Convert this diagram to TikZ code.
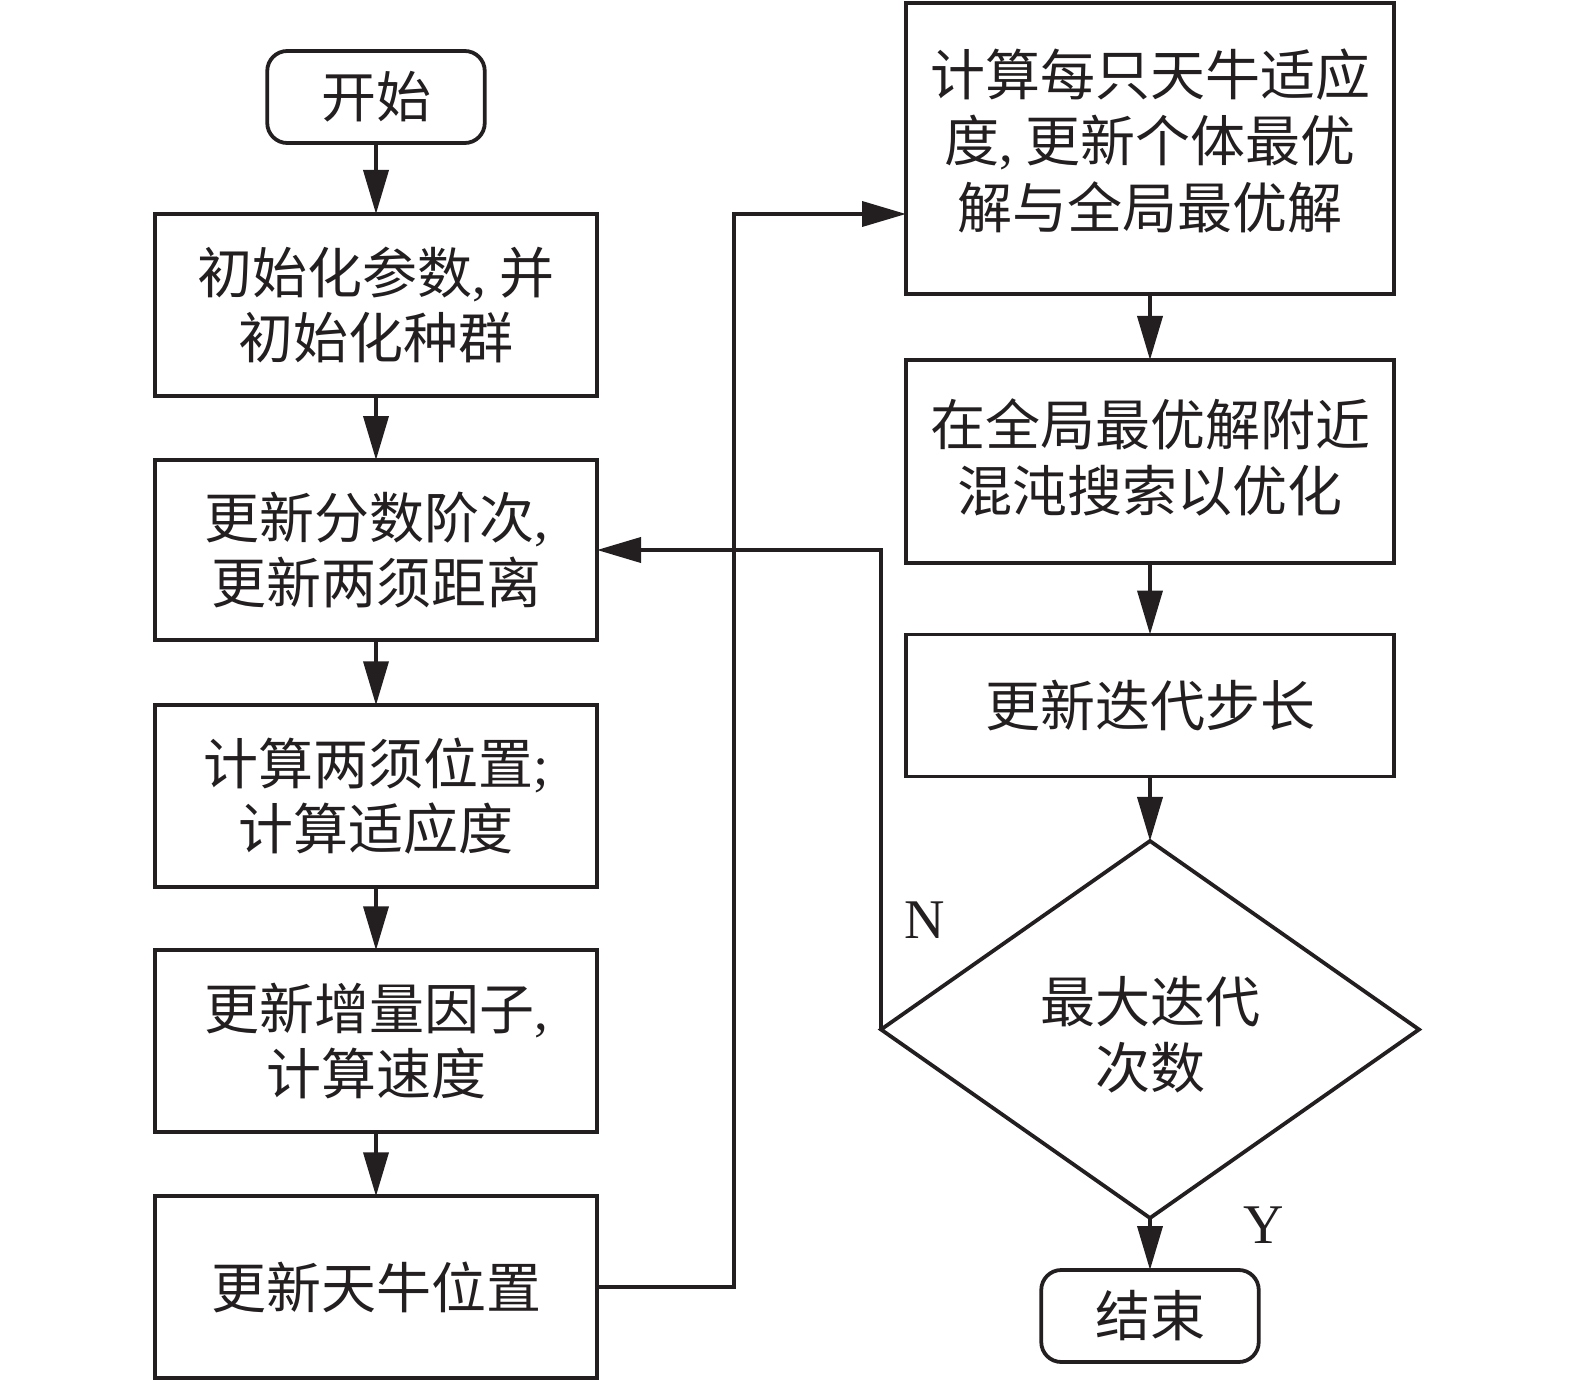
\documentclass[tikz,border=0pt]{standalone}
\usepackage{fontspec}
\setmainfont{Noto Sans CJK SC}
\newfontfamily\lat{Liberation Serif}
\usetikzlibrary{arrows.meta,shapes.geometric}
\definecolor{ink}{HTML}{231F20}
\newcommand\txtup[2]{\raisebox{0pt}[\height][\dimexpr\depth+#1\relax]{\begin{tabular}{@{}c@{}}#2\end{tabular}}}
\newcommand\txtdown[2]{\raisebox{0pt}[\dimexpr\height+#1\relax][\depth]{\begin{tabular}{@{}c@{}}#2\end{tabular}}}
\begin{document}
\begin{tikzpicture}[x=1pt,y=-1pt,
  every node/.style={inner sep=0pt,outer sep=0pt,text=ink,font=\fontsize{55}{65.5}\selectfont,align=center},
  box/.style={draw=ink,line width=3.8pt,rectangle},
  term/.style={draw=ink,line width=3.8pt,rectangle,rounded corners=20pt},
  arr/.style={draw=ink,line width=3.8pt,-{Triangle[length=44pt,width=25pt]}},
  lbl/.style={font=\lat\fontsize{56}{60}\selectfont}]
\useasboundingbox (0,0) rectangle (1575,1380);
% left column
\node[term,minimum width=217.5pt,minimum height=92pt] (start) at (376,97) {开始};
\node[box,minimum width=442pt,minimum height=182pt] (b1) at (376,305) {初始化参数{\lat,} 并\\初始化种群};
\node[box,minimum width=442pt,minimum height=180pt] (b2) at (376,550) {更新分数阶次{\lat,}\\更新两须距离};
\node[box,minimum width=442pt,minimum height=181.5pt] (b3) at (376,796) {计算两须位置{\lat;}\\计算适应度};
\node[box,minimum width=442pt,minimum height=181.5pt] (b4) at (376,1041) {更新增量因子{\lat,}\\计算速度};
\node[box,minimum width=442pt,minimum height=181.5pt] (b5) at (376,1287) {更新天牛位置};
% right column
\node[box,minimum width=488pt,minimum height=291pt] (r1) at (1150,148.5) {\txtup{0pt}{计算每只天牛适应\\度{\lat,} 更新个体最优\\解与全局最优解}};
\node[box,minimum width=488pt,minimum height=203pt] (r2) at (1150,461.5) {\txtdown{6pt}{在全局最优解附近\\混沌搜索以优化}};
\node[box,minimum width=488pt,minimum height=142pt] (r3) at (1150,705.5) {更新迭代步长};
\node[draw=ink,line width=3.8pt,diamond,minimum width=538pt,minimum height=377pt] (dia) at (1150,1029.5) {\txtdown{25pt}{最大迭代\\次数}};
\node[term,minimum width=217.5pt,minimum height=92pt] (end) at (1150,1316) {结束};
% labels
\node[lbl] (nlab) at (925,920) {N};
\node[lbl] (ylab) at (1264,1225) {Y};
% connectors
\coordinate (j1) at (734,214);
\draw[arr] (start) -- (b1);
\draw[arr] (b1) -- (b2);
\draw[arr] (b2) -- (b3);
\draw[arr] (b3) -- (b4);
\draw[arr] (b4) -- (b5);
\draw[arr] (b5.east) -| (j1) -- (j1 -| r1.west);
\draw[arr] (r1) -- (r2);
\draw[arr] (r2) -- (r3);
\draw[arr] (r3) -- (dia);
\draw[arr] (dia) -- (end);
\draw[arr] (dia.west) |- (b2.east);
\end{tikzpicture}
\end{document}
